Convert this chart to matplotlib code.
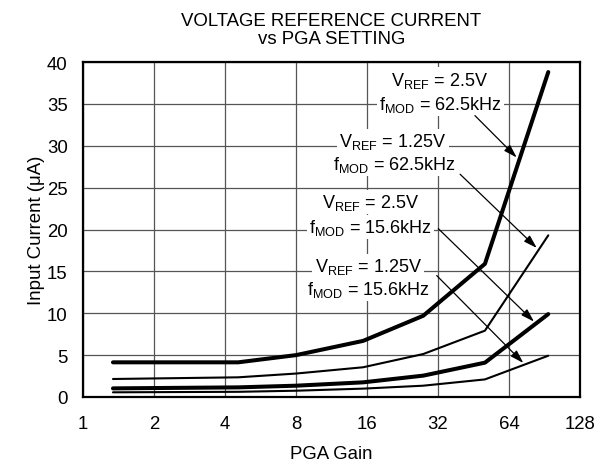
import matplotlib
matplotlib.use("Agg")
import matplotlib.pyplot as plt

plt.rcParams['font.family'] = ['Liberation Sans', 'DejaVu Sans']
plt.rcParams['mathtext.fontset'] = 'custom'
plt.rcParams['mathtext.rm'] = 'Liberation Sans'
plt.rcParams['mathtext.it'] = 'Liberation Sans'

# Data
gain = [1.34, 4.55, 8.0, 15.4, 27.7, 50.6, 93.9]
i_vref25_f625 = [4.14, 4.14, 5.0, 6.7, 9.7, 15.9, 38.8]
i_vref125_f625 = [2.15, 2.35, 2.8, 3.55, 5.13, 7.92, 19.3]
i_vref25_f156 = [1.03, 1.15, 1.35, 1.75, 2.55, 4.1, 9.9]
i_vref125_f156 = [0.56, 0.62, 0.75, 1.0, 1.35, 2.1, 4.93]

x_ticks = [1, 2, 4, 8, 16, 32, 64, 128]
x_tick_labels = ['1', '2', '4', '8', '16', '32', '64', '128']
y_ticks = [0, 5, 10, 15, 20, 25, 30, 35, 40]

fs = 13.4
fs_ann = 13.0
fig = plt.figure(figsize=(6.08, 4.64), dpi=100)
ax = fig.add_axes([83/608, 1-398/464, (580-83)/608, (398-63)/464])

ax.plot(gain, i_vref25_f625, color='black', lw=2.9, solid_capstyle='round', zorder=3)
ax.plot(gain, i_vref125_f625, color='black', lw=1.5, solid_capstyle='round', zorder=3)
ax.plot(gain, i_vref25_f156, color='black', lw=2.9, solid_capstyle='round', zorder=3)
ax.plot(gain, i_vref125_f156, color='black', lw=1.5, solid_capstyle='round', zorder=3)

ax.set_xscale('log', base=2)
ax.set_xlim(1, 128)
ax.set_ylim(0, 40)
ax.set_xticks(x_ticks)
ax.set_xticklabels(x_tick_labels)
ax.minorticks_off()
ax.set_yticks(y_ticks)
ax.tick_params(axis='both', length=0, labelsize=fs)
ax.tick_params(axis='x', pad=13)
ax.tick_params(axis='y', pad=11)
ax.grid(True, color='#555555', lw=0.9, zorder=1)
ax.set_axisbelow(True)
for s in ax.spines.values():
    s.set_linewidth(1.6)
    s.set_color('black')

ax.set_xlabel('PGA Gain', fontsize=fs, labelpad=9)
ax.set_ylabel('Input Current (\u03bcA)', fontsize=fs, labelpad=1.5)
ax.set_title('VOLTAGE REFERENCE CURRENT\nvs PGA SETTING', fontsize=fs, pad=14, linespacing=1.08)

bbox = dict(boxstyle='square,pad=0.12', facecolor='white', edgecolor='none')
labels = [
    (r'$\mathregular{V_{REF}}$ = 2.5V', 32.6, 37.9),
    (r'$\mathregular{f_{MOD}}$ = 62.5kHz', 32.9, 35.0),
    (r'$\mathregular{V_{REF}}$ = 1.25V', 20.6, 30.6),
    (r'$\mathregular{f_{MOD}}$ = 62.5kHz', 21.0, 27.8),
    (r'$\mathregular{V_{REF}}$ = 2.5V', 16.6, 23.3),
    (r'$\mathregular{f_{MOD}}$ = 15.6kHz', 16.6, 20.3),
    (r'$\mathregular{V_{REF}}$ = 1.25V', 16.2, 15.6),
    (r'$\mathregular{f_{MOD}}$ = 15.6kHz', 16.2, 12.9),
]
for t, x, y in labels:
    ax.text(x, y, t, fontsize=fs_ann, ha='center', va='center', bbox=bbox, zorder=4)

arrows = [
    ((45.9, 33.6), (69.0, 28.6)),
    ((39.7, 26.6), (83.9, 17.8)),
    ((32.1, 20.1), (81.7, 9.0)),
    ((31.6, 14.5), (73.6, 4.06)),
]
for (x0, y0), (x1, y1) in arrows:
    ax.annotate('', xy=(x1, y1), xytext=(x0, y0),
                arrowprops=dict(arrowstyle='-|>,head_length=0.8,head_width=0.25',
                                lw=0.9, color='black', shrinkA=0, shrinkB=0),
                zorder=5)

fig.savefig('out.png', dpi=100)
